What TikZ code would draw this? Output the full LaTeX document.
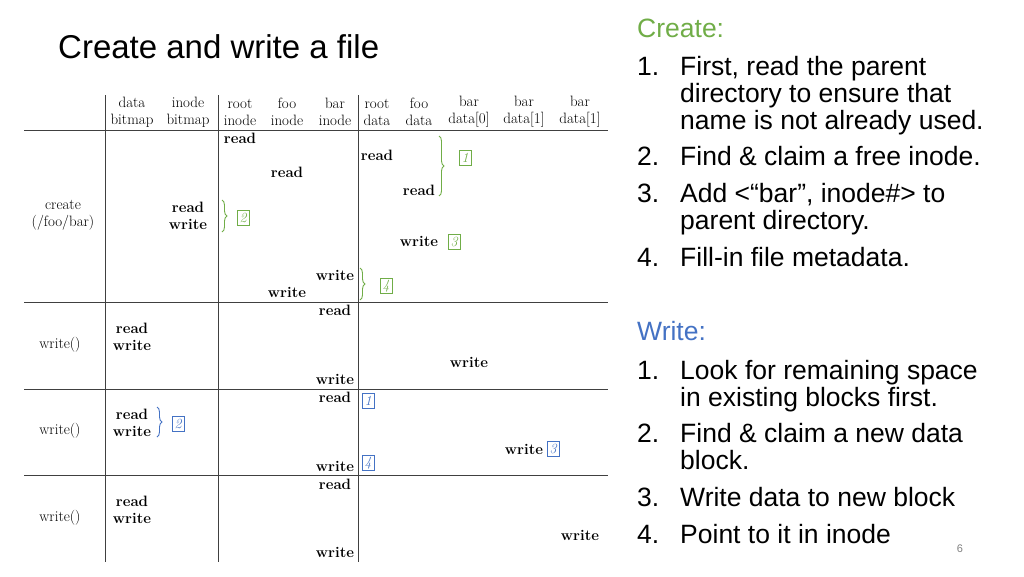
\documentclass[tikz,border=0pt]{standalone}
\usepackage{fontspec}
\setmainfont{Liberation Sans}
\usetikzlibrary{decorations.pathreplacing}
\definecolor{crgreen}{RGB}{112,173,71}
\definecolor{wrblue}{RGB}{68,114,196}
\newfontfamily\tabfont{Latin Modern Roman}
\tikzset{
  op/.style={font=\tabfont\bfseries\fontsize{15}{15}\selectfont, inner sep=0},
  hd/.style={font=\tabfont\fontsize{15}{17}\selectfont, inner sep=0, align=center},
  numbox/.style={draw, font=\tabfont\itshape\fontsize{14}{14}\selectfont, inner sep=1.5pt, minimum width=12pt, minimum height=15pt},
  brc/.style={decorate, decoration={brace, amplitude=5pt}, line width=0.9pt},
  item/.style={anchor=base west, inner sep=0, font=\fontsize{26.5}{27}\selectfont}
}
\begin{document}
\begin{tikzpicture}[x=1pt,y=-1pt]
\useasboundingbox (0,0) rectangle (1024,576);
%\draw[help lines] (0,0) grid (1024,576);
\node (title) [anchor=west, inner sep=0, font=\fontsize{33}{33}\selectfont] at (58,47) {Create and write a file};
% table lines
\draw[line width=1pt, black!75] (105,95) -- (105,562) (218,95) -- (218,562) (358,95) -- (358,562);
\foreach \y in {130,302,389,475} \draw[line width=1pt, black!75] (24,\y) -- (608,\y);
% header
\node (h1) [hd] at (132,112) {data\\bitmap};
\node (h2) [hd] at (188,112) {inode\\bitmap};
\node (h3) [hd] at (240,112) {root\\inode};
\node (h4) [hd] at (287,112) {foo\\inode};
\node (h5) [hd] at (335,112) {bar\\inode};
\node (h6) [hd] at (377,112) {root\\data};
\node (h7) [hd] at (419,112) {foo\\data};
\node (h8) [hd] at (469,112) {bar\\data[0]};
\node (h9) [hd] at (524,112) {bar\\data[1]};
\node (h10) [hd] at (580,112) {bar\\data[1]};
% create
\node (c) [hd] at (63,215) {create\\(/foo/bar)};
\node (c1) [op] at (240,138) {read};
\node (c2) [op] at (287,172) {read};
\node (c3) [op] at (377,155) {read};
\node (c4) [op] at (419,190) {read};
\node (c5) [op] at (188,207) {read};
\node (c6) [op] at (188,224) {write};
\node (c7) [op] at (419,241) {write};
\node (c8) [op] at (335,275) {write};
\node (c9) [op] at (287,292) {write};
\draw[brc, crgreen] (439,136) -- (439,196);
\node (n1) [numbox, crgreen] at (465,158) {1};
\draw[brc, crgreen] (222,200) -- (222,232);
\node (n2) [numbox, crgreen] at (243,218) {2};
\node (n3) [numbox, crgreen] at (454,242) {3};
\draw[brc, crgreen] (360,268) -- (360,300);
\node (n4) [numbox, crgreen] at (386,286) {4};
% write rows
\node (w) [hd] at (60,345) {write()};
\node (w1) [op] at (132,328) {read};
\node (w2) [op] at (132,345) {write};
\node (w3) [op] at (335,310) {read};
\node (w4) [op] at (335,379) {write};
\node (w5) [op] at (469,362) {write};
\node (v) [hd] at (60,431) {write()};
\node (v1) [op] at (132,414) {read};
\node (v2) [op] at (132,431) {write};
\node (v3) [op] at (335,397) {read};
\node (v4) [op] at (335,466) {write};
\node (v5) [op] at (524,449) {write};
\draw[brc, wrblue] (157,407) -- (157,437);
\node (m2) [numbox, wrblue] at (178,424) {2};
\node (m1) [numbox, wrblue] at (368,401) {1};
\node (m4) [numbox, wrblue] at (368,463) {4};
\node (m3) [numbox, wrblue] at (553,449) {3};
\node (u) [hd] at (60,518) {write()};
\node (u1) [op] at (132,501) {read};
\node (u2) [op] at (132,518) {write};
\node (u3) [op] at (335,484) {read};
\node (u4) [op] at (335,552) {write};
\node (u5) [op] at (580,535) {write};
% right text
\node (cr) [item, crgreen] at (637,37) {Create:};
\node (cn1) [item] at (637,75) {1.};
\node (ct1) [item] at (680,75) {First, read the parent};
\node (ct1b) [item] at (680,102) {directory to ensure that};
\node (ct1c) [item] at (680,129) {name is not already used.};
\node (cn2) [item] at (637,165) {2.};
\node (ct2) [item] at (680,165) {Find \& claim a free inode.};
\node (cn3) [item] at (637,202) {3.};
\node (ct3) [item] at (680,202) {Add <“bar”, inode\#> to};
\node (ct3b) [item] at (680,229) {parent directory.};
\node (cn4) [item] at (637,266) {4.};
\node (ct4) [item] at (680,266) {Fill-in file metadata.};
\node (wr) [item, wrblue] at (637,340) {Write:};
\node (wn1) [item] at (637,379) {1.};
\node (wt1) [item] at (680,379) {Look for remaining space};
\node (wt1b) [item] at (680,406) {in existing blocks first.};
\node (wn2) [item] at (637,442) {2.};
\node (wt2) [item] at (680,442) {Find \& claim a new data};
\node (wt2b) [item] at (680,469) {block.};
\node (wn3) [item] at (637,506) {3.};
\node (wt3) [item] at (680,506) {Write data to new block};
\node (wn4) [item] at (637,543) {4.};
\node (wt4) [item] at (680,543) {Point to it in inode};
\node (pg) [font=\fontsize{11}{11}\selectfont, gray] at (960,549) {6};
\end{tikzpicture}
\end{document}
